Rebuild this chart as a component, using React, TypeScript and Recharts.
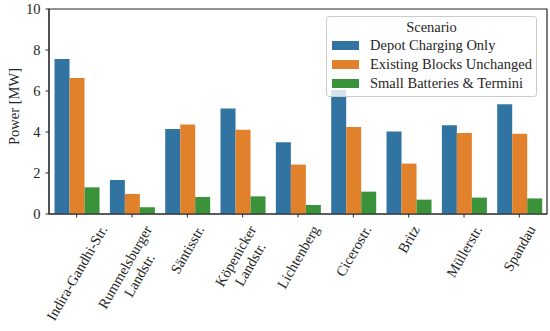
import { BarChart, Bar, XAxis, YAxis, ReferenceArea } from 'recharts'

const depoterCharging = [7.56, 1.66, 4.15, 5.15, 3.5, 6.05, 4.03, 4.33, 5.35]
const existingBlocks = [6.63, 0.98, 4.36, 4.11, 2.41, 4.24, 2.46, 3.95, 3.92]
const smallBatteries = [1.3, 0.33, 0.83, 0.86, 0.44, 1.09, 0.7, 0.8, 0.76]

const standorte = [
  'Indira-Gandhi-Str.',
  'Rummelsburger\nLandstr.',
  'Säntisstr.',
  'Köpenicker\nLandstr.',
  'Lichtenberg',
  'Cicerostr.',
  'Britz',
  'Müllerstr.',
  'Spandau',
]

const yTicks = [0, 2, 4, 6, 8, 10]

const SERIEN = [
  { key: 'depot', name: 'Depot Charging Only', farbe: '#3274a1' },
  { key: 'existing', name: 'Existing Blocks Unchanged', farbe: '#e1812c' },
  { key: 'small', name: 'Small Batteries & Termini', farbe: '#3a923a' },
]

const daten = standorte.map((s, i) => ({
  standort: s,
  depot: depoterCharging[i],
  existing: existingBlocks[i],
  small: smallBatteries[i],
}))

const FONT = '"Liberation Serif", "Times New Roman", serif'
const FS = 14.5
const TEXT = '#262626'

let ctx: CanvasRenderingContext2D | null = null
function textBreite(t: string) {
  if (!ctx) ctx = document.createElement('canvas').getContext('2d')
  if (!ctx) return t.length * FS * 0.45
  ctx.font = `${FS}px ${FONT}`
  return ctx.measureText(t).width
}

// Beschriftung um 60° gedreht, Box mittig unter dem Tick
function XTick({ x, y, payload }: any) {
  const zeilen = String(payload.value).split('\n')
  const w = Math.max(...zeilen.map(textBreite))
  const lh = FS * 1.15
  const h = zeilen.length * lh
  const boxH = w * Math.sin(Math.PI / 3) + h * Math.cos(Math.PI / 3)
  const cy = y + 3 + boxH / 2
  return (
    <g transform={`translate(${x},${cy}) rotate(-60)`}>
      <text textAnchor="middle" fontFamily={FONT} fontSize={FS} fill={TEXT}>
        {zeilen.map((z, i) => (
          <tspan key={i} x={0} y={(i - (zeilen.length - 1) / 2) * lh} dy="0.35em">
            {z}
          </tspan>
        ))}
      </text>
    </g>
  )
}

function LegendBox() {
  return (
    <div
      style={{
        position: 'absolute',
        left: 326,
        top: 16,
        width: 209,
        height: 79,
        background: 'rgba(255,255,255,0.8)',
        border: '1px solid #cccccc',
        borderRadius: 3,
        fontFamily: FONT,
        fontSize: FS,
        color: TEXT,
      }}
    >
      <div style={{ position: 'absolute', top: 1, left: 0, width: '100%', textAlign: 'center', lineHeight: '19px' }}>
        Scenario
      </div>
      {SERIEN.map((s, i) => (
        <div
          key={s.key}
          style={{ position: 'absolute', top: 19 + i * 19, left: 5, height: 19, display: 'flex', alignItems: 'center' }}
        >
          <span style={{ display: 'inline-block', width: 27, height: 9, background: s.farbe, marginRight: 11 }} />
          <span style={{ lineHeight: '19px', whiteSpace: 'nowrap' }}>{s.name}</span>
        </div>
      ))}
    </div>
  )
}

export default function App() {
  return (
    <div style={{ position: 'absolute', left: 0, top: 0, width: 550, height: 331, background: '#fff' }}>
      <BarChart
        width={550}
        height={331}
        data={daten}
        margin={{ top: 9, right: 3, left: 0, bottom: 0 }}
        barGap={0}
        barCategoryGap="10%"
      >
        <XAxis
          dataKey="standort"
          interval={0}
          height={117}
          tickSize={3.5}
          tickLine={{ stroke: TEXT }}
          axisLine={{ stroke: TEXT }}
          tick={<XTick />}
        />
        <YAxis
          domain={[0, 10]}
          ticks={yTicks}
          width={49}
          tickSize={3.5}
          tickMargin={5}
          tickLine={{ stroke: TEXT }}
          axisLine={{ stroke: TEXT }}
          tick={{ fontFamily: FONT, fontSize: FS, fill: TEXT }}
          label={{
            content: ({ viewBox }: any) => (
              <text
                transform={`translate(14,${viewBox.y + viewBox.height / 2 - 5}) rotate(-90)`}
                textAnchor="middle"
                dominantBaseline="central"
                fontFamily={FONT}
                fontSize={FS}
                fill={TEXT}
              >
                Power [MW]
              </text>
            ),
          }}
        />
        {SERIEN.map((s) => (
          <Bar key={s.key} dataKey={s.key} name={s.name} fill={s.farbe} isAnimationActive={false} />
        ))}
        <ReferenceArea y1={0} y2={10} fill="none" stroke={TEXT} strokeWidth={1.2} ifOverflow="visible" />
      </BarChart>
      <LegendBox />
    </div>
  )
}
